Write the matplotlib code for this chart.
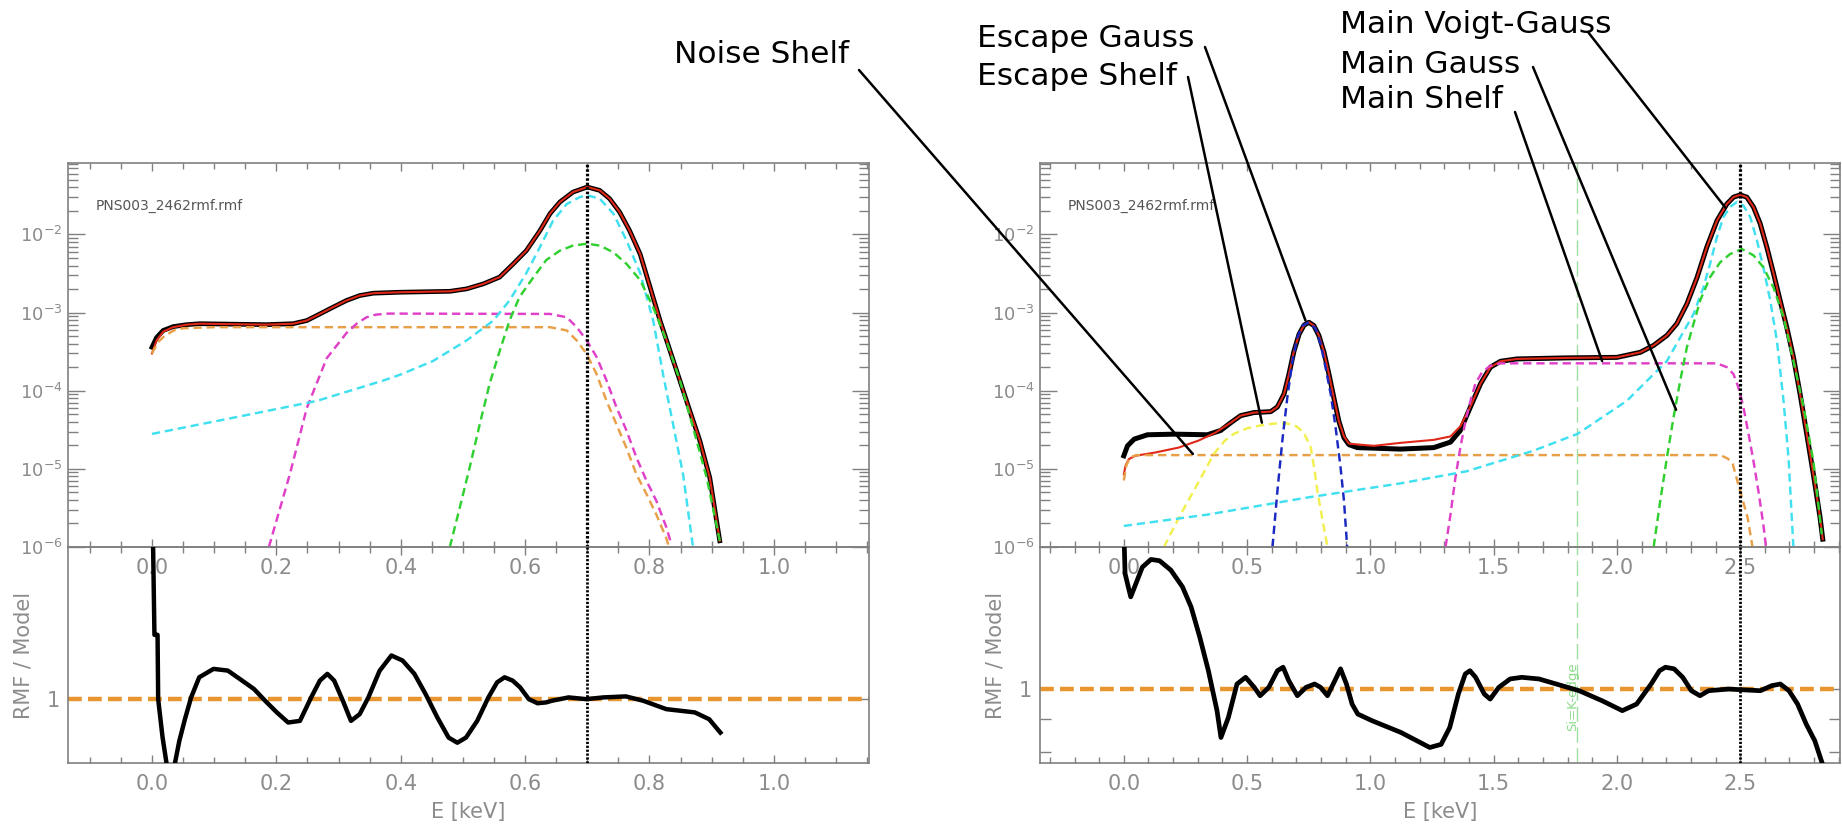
import numpy as np
import matplotlib.pyplot as plt
from matplotlib.ticker import MultipleLocator, FixedLocator, FixedFormatter, NullLocator, NullFormatter


# DATA

rmf_name = "PNS003_2462rmf.rmf"

# --- left: 0.7 keV line ---
left_line_e = 0.70
left_e = [0.0, 0.0075, 0.018, 0.034, 0.056, 0.077, 0.184, 0.227, 0.249, 0.270, 0.291,
          0.313, 0.334, 0.356, 0.399, 0.479, 0.506, 0.533, 0.559, 0.581, 0.602, 0.624,
          0.640, 0.656, 0.677, 0.700, 0.720, 0.736, 0.752, 0.768, 0.785, 0.801, 0.817,
          0.833, 0.849, 0.865, 0.881, 0.897, 0.913]
left_rmf = [3.6e-4, 4.8e-4, 5.9e-4, 6.6e-4, 7.0e-4, 7.2e-4, 7.0e-4, 7.2e-4, 7.9e-4,
            9.6e-4, 1.17e-3, 1.43e-3, 1.65e-3, 1.77e-3, 1.82e-3, 1.87e-3, 2.01e-3,
            2.33e-3, 2.84e-3, 4.2e-3, 6.2e-3, 0.0112, 0.0184, 0.026, 0.0348, 0.0404,
            0.0366, 0.0286, 0.0193, 0.0112, 5.6e-3, 2.11e-3, 7.9e-4, 3.26e-4, 1.34e-4,
            5.5e-5, 2.29e-5, 7.7e-6, 1.2e-6]
left_model = [3.0e-4, 4.4e-4, 5.7e-4, 6.5e-4, 7.0e-4, 7.2e-4, 7.0e-4, 7.2e-4, 7.9e-4,
              9.6e-4, 1.17e-3, 1.43e-3, 1.65e-3, 1.77e-3, 1.82e-3, 1.87e-3, 2.01e-3,
              2.33e-3, 2.84e-3, 4.2e-3, 6.2e-3, 0.0112, 0.0184, 0.026, 0.0348, 0.0404,
              0.0366, 0.0286, 0.0193, 0.0112, 5.6e-3, 2.11e-3, 7.9e-4, 3.26e-4, 1.34e-4,
              5.5e-5, 2.29e-5, 7.7e-6, 1.2e-6]

left_noise_e = [0.0, 0.01, 0.02, 0.035, 0.05, 0.10, 0.60, 0.640, 0.667, 0.683, 0.699,
                0.715, 0.731, 0.747, 0.763, 0.779, 0.795, 0.811, 0.827, 0.835]
left_noise = [3.0e-4, 4.2e-4, 5.0e-4, 5.9e-4, 6.3e-4, 6.5e-4, 6.5e-4, 6.5e-4, 5.9e-4,
              4.4e-4, 2.95e-4, 1.63e-4, 7.4e-5, 3.7e-5, 1.85e-5, 8.5e-6, 4.8e-6, 2.6e-6,
              1.3e-6, 8e-7]

left_shelf_e = [0.188, 0.222, 0.249, 0.281, 0.313, 0.33, 0.345, 0.36, 0.38, 0.640, 0.667,
                0.683, 0.699, 0.715, 0.731, 0.747, 0.763, 0.779, 0.795, 0.811, 0.827, 0.835]
left_shelf = [1.0e-6, 8.7e-6, 6.0e-5, 2.6e-4, 5.5e-4, 7.3e-4, 8.7e-4, 9.4e-4, 9.7e-4,
              9.6e-4, 8.7e-4, 6.5e-4, 4.4e-4, 2.7e-4, 1.35e-4, 6.1e-5, 3.1e-5, 1.4e-5,
              7.1e-6, 3.9e-6, 1.8e-6, 1.1e-6]

left_voigt_e = [0.0, 0.13, 0.265, 0.372, 0.399, 0.452, 0.506, 0.549, 0.575, 0.602, 0.624,
                0.645, 0.667, 0.688, 0.700, 0.720, 0.742, 0.763, 0.785, 0.806, 0.822,
                0.838, 0.854, 0.870]
left_voigt = [2.8e-5, 4.5e-5, 7.4e-5, 1.35e-4, 1.6e-4, 2.4e-4, 4.4e-4, 7.9e-4, 1.43e-3,
              3.2e-3, 6.9e-3, 0.015, 0.0245, 0.030, 0.0316, 0.0287, 0.0184, 8.4e-3,
              3.2e-3, 7.9e-4, 1.6e-4, 3.7e-5, 8.5e-6, 1.0e-6]

left_gauss_e = [0.479, 0.495, 0.511, 0.527, 0.543, 0.559, 0.575, 0.591, 0.613, 0.634,
                0.656, 0.677, 0.700, 0.720, 0.742, 0.763, 0.785, 0.806, 0.827, 0.849,
                0.870, 0.892, 0.913]
left_gauss = [1.0e-6, 3.2e-6, 1.05e-5, 3.7e-5, 1.23e-4, 3.2e-4, 7.9e-4, 1.58e-3, 2.8e-3,
              4.7e-3, 6.2e-3, 7.2e-3, 7.6e-3, 7.2e-3, 5.9e-3, 4.2e-3, 2.6e-3, 1.17e-3,
              4.4e-4, 1.35e-4, 3.4e-5, 7.7e-6, 1.2e-6]

left_ratio_e = [0.0, 0.004, 0.009, 0.010, 0.017, 0.024, 0.030, 0.037, 0.044, 0.053, 0.063,
                0.076, 0.099, 0.122, 0.145, 0.164, 0.182, 0.201, 0.219, 0.238, 0.256,
                0.270, 0.282, 0.293, 0.307, 0.320, 0.334, 0.348, 0.366, 0.385, 0.403,
                0.422, 0.440, 0.459, 0.477, 0.491, 0.505, 0.523, 0.541, 0.555, 0.567,
                0.580, 0.592, 0.606, 0.620, 0.634, 0.643, 0.670, 0.698, 0.726, 0.762,
                0.790, 0.827, 0.873, 0.896, 0.914]
left_ratio = [1.20, 1.053, 1.053, 1.0, 0.970, 0.948, 0.940, 0.950, 0.967, 0.984, 1.0014,
              1.0177, 1.0246, 1.0232, 1.015, 1.0082, 0.9987, 0.9893, 0.9814, 0.9827,
              1.0014, 1.015, 1.0205, 1.015, 0.9987, 0.9827, 0.988, 1.0014, 1.023, 1.0357,
              1.0315, 1.0205, 1.0041, 0.9853, 0.9696, 0.9656, 0.9696, 0.9827, 1.0014,
              1.0136, 1.0177, 1.015, 1.0095, 1.0, 0.9967, 0.9974, 0.9987, 1.0014, 1.0,
              1.0014, 1.0022, 0.9987, 0.992, 0.9894, 0.984, 0.9735]

# --- right: 2.5 keV line ---
right_line_e = 2.50
si_edge_e = 1.839
right_e = [0.0, 0.015, 0.042, 0.096, 0.204, 0.339, 0.393, 0.434, 0.474, 0.528, 0.596,
           0.623, 0.650, 0.670, 0.690, 0.711, 0.731, 0.751, 0.771, 0.791, 0.812, 0.832,
           0.852, 0.872, 0.893, 0.913, 0.947, 1.014, 1.122, 1.257, 1.325, 1.365, 1.406,
           1.447, 1.487, 1.528, 1.595, 1.798, 2.000, 2.095, 2.149, 2.203, 2.243, 2.284,
           2.325, 2.365, 2.406, 2.446, 2.473, 2.500, 2.527, 2.554, 2.581, 2.608, 2.635,
           2.662, 2.689, 2.716, 2.743, 2.770, 2.797, 2.824, 2.835]
right_rmf = [1.47e-5, 1.97e-5, 2.4e-5, 2.73e-5, 2.78e-5, 2.73e-5, 3.1e-5, 3.9e-5, 4.8e-5,
             5.25e-5, 5.4e-5, 6.2e-5, 9.1e-5, 1.63e-4, 3.2e-4, 5.3e-4, 6.9e-4, 7.5e-4,
             6.8e-4, 5.1e-4, 3.1e-4, 1.63e-4, 8.1e-5, 4.1e-5, 2.5e-5, 2.04e-5, 1.87e-5,
             1.84e-5, 1.79e-5, 1.87e-5, 2.2e-5, 3.1e-5, 6.2e-5, 1.23e-4, 2.0e-4, 2.38e-4,
             2.55e-4, 2.63e-4, 2.67e-4, 3.1e-4, 3.8e-4, 5.1e-4, 7.2e-4, 1.29e-3, 2.8e-3,
             6.9e-3, 0.015, 0.0245, 0.030, 0.032, 0.030, 0.0224, 0.0138, 6.9e-3, 3.2e-3,
             1.43e-3, 6.5e-4, 2.7e-4, 9.1e-5, 2.8e-5, 8.5e-6, 2.4e-6, 1.26e-6]
right_model_e = [0.0, 0.007, 0.020, 0.047, 0.128, 0.222, 0.303, 0.371, 0.434, 0.474,
                 0.528, 0.596, 0.623, 0.650, 0.670, 0.690, 0.711, 0.731, 0.751, 0.771,
                 0.791, 0.812, 0.832, 0.852, 0.872, 0.893, 0.913, 1.014, 1.122, 1.257,
                 1.325, 1.365, 1.406, 1.447, 1.487, 1.528, 1.595, 1.798, 2.000, 2.095,
                 2.149, 2.203, 2.243, 2.284, 2.325, 2.365, 2.406, 2.446, 2.473, 2.500,
                 2.527, 2.554, 2.581, 2.608, 2.635, 2.662, 2.689, 2.716, 2.743, 2.770,
                 2.797, 2.824, 2.835]
right_model = [8.5e-6, 1.1e-5, 1.33e-5, 1.47e-5, 1.62e-5, 1.87e-5, 2.3e-5, 2.9e-5, 3.9e-5,
               4.8e-5, 5.25e-5, 5.4e-5, 6.2e-5, 9.1e-5, 1.63e-4, 3.2e-4, 5.3e-4, 6.9e-4,
               7.5e-4, 6.8e-4, 5.1e-4, 3.1e-4, 1.63e-4, 8.1e-5, 4.1e-5, 2.6e-5, 2.1e-5,
               1.97e-5, 2.15e-5, 2.35e-5, 2.6e-5, 3.5e-5, 6.3e-5, 1.23e-4, 2.0e-4, 2.38e-4,
               2.55e-4, 2.63e-4, 2.67e-4, 3.1e-4, 3.8e-4, 5.1e-4, 7.2e-4, 1.29e-3, 2.8e-3,
               6.9e-3, 0.015, 0.0245, 0.030, 0.032, 0.030, 0.0224, 0.0138, 6.9e-3, 3.2e-3,
               1.43e-3, 6.5e-4, 2.7e-4, 9.1e-5, 2.8e-5, 8.5e-6, 2.4e-6, 1.26e-6]

right_noise_e = [0.0, 0.01, 0.025, 0.05, 2.42, 2.45, 2.47, 2.50, 2.53, 2.55]
right_noise = [7.1e-6, 1.1e-5, 1.4e-5, 1.5e-5, 1.5e-5, 1.35e-5, 1.15e-5, 5.2e-6, 2.4e-6, 1.0e-6]

right_esc_shelf_e = [0.163, 0.20, 0.23, 0.30, 0.365, 0.41, 0.446, 0.50, 0.555, 0.61, 0.664,
                     0.70, 0.730, 0.758, 0.775, 0.785, 0.805, 0.826]
right_esc_shelf = [1.0e-6, 1.7e-6, 2.6e-6, 6.5e-6, 1.55e-5, 2.3e-5, 2.8e-5, 3.3e-5, 3.6e-5,
                   3.8e-5, 3.8e-5, 3.5e-5, 2.9e-5, 1.9e-5, 9e-6, 5.2e-6, 2.3e-6, 1.0e-6]

right_esc_gauss_e = [0.603, 0.623, 0.643, 0.663, 0.684, 0.704, 0.724, 0.751, 0.778, 0.798,
                     0.818, 0.839, 0.859, 0.879, 0.893, 0.906]
right_esc_gauss = [1.0e-6, 5.2e-6, 2.3e-5, 8.1e-5, 2.4e-4, 4.8e-4, 6.8e-4, 7.5e-4, 6.2e-4,
                   4.0e-4, 2.0e-4, 9.1e-5, 3.4e-5, 1.05e-5, 3.9e-6, 1.0e-6]

right_shelf_e = [1.305, 1.325, 1.345, 1.365, 1.386, 1.406, 1.426, 1.453, 1.487, 1.528,
                 2.406, 2.446, 2.473, 2.493, 2.513, 2.534, 2.554, 2.574, 2.594, 2.605]
right_shelf = [1.0e-6, 2.6e-6, 7.7e-6, 1.87e-5, 4.1e-5, 7.4e-5, 1.23e-4, 1.72e-4, 2.09e-4,
               2.24e-4, 2.24e-4, 2.0e-4, 1.63e-4, 1.1e-4, 6.2e-5, 2.8e-5, 1.26e-5, 5.2e-6,
               1.95e-6, 1.0e-6]

right_voigt_e = [0.0, 0.34, 0.745, 1.12, 1.39, 1.66, 1.84, 2.04, 2.203, 2.311, 2.351,
                 2.378, 2.406, 2.432, 2.459, 2.487, 2.513, 2.541, 2.568, 2.594, 2.622,
                 2.649, 2.676, 2.696, 2.716]
right_voigt = [1.86e-6, 2.6e-6, 4.3e-6, 6.5e-6, 9.3e-6, 1.7e-5, 2.8e-5, 7.4e-5, 2.4e-4,
               9.6e-4, 2.1e-3, 4.2e-3, 9.3e-3, 0.0166, 0.0224, 0.026, 0.0234, 0.0166,
               8.4e-3, 3.8e-3, 1.43e-3, 4.4e-4, 7.4e-5, 1.4e-5, 1.0e-6]

right_gauss_e = [2.149, 2.176, 2.203, 2.230, 2.257, 2.284, 2.311, 2.338, 2.378, 2.419,
                 2.459, 2.507, 2.554, 2.594, 2.635, 2.676, 2.716, 2.757, 2.797, 2.831]
right_gauss = [1.0e-6, 3.9e-6, 1.4e-5, 4.6e-5, 1.35e-4, 3.6e-4, 7.2e-4, 1.43e-3, 2.84e-3,
               4.4e-3, 5.6e-3, 6.5e-3, 5.4e-3, 3.8e-3, 2.1e-3, 8.7e-4, 2.4e-4, 6.2e-5,
               1.26e-5, 1.45e-6]

right_ratio_e = [0.0, 0.005, 0.028, 0.075, 0.110, 0.145, 0.191, 0.238, 0.273, 0.308, 0.343,
                 0.378, 0.394, 0.424, 0.459, 0.494, 0.529, 0.553, 0.588, 0.623, 0.646,
                 0.669, 0.704, 0.739, 0.774, 0.798, 0.826, 0.856, 0.879, 0.903, 0.926,
                 0.949, 1.007, 1.124, 1.241, 1.287, 1.322, 1.357, 1.385, 1.404, 1.427,
                 1.462, 1.486, 1.521, 1.567, 1.614, 1.684, 1.777, 1.847, 1.940, 2.022,
                 2.080, 2.139, 2.173, 2.197, 2.232, 2.267, 2.302, 2.337, 2.372, 2.453,
                 2.500, 2.582, 2.628, 2.663, 2.698, 2.733, 2.768, 2.803, 2.838]
right_ratio = [1.75, 1.496, 1.379, 1.53, 1.572, 1.565, 1.514, 1.428, 1.331, 1.198, 1.065,
               0.926, 0.843, 0.904, 1.0165, 1.0406, 1.0047, 0.9757, 1.0047, 1.065, 1.078,
               1.0285, 0.9757, 1.0047, 1.0165, 1.0047, 0.9757, 1.0285, 1.072, 1.0165,
               0.9475, 0.915, 0.894, 0.858, 0.814, 0.823, 0.873, 0.9815, 1.053, 1.065,
               1.0406, 0.9815, 0.9643, 1.0047, 1.0347, 1.0406, 1.0347, 1.0106, 0.993,
               0.9587, 0.926, 0.9475, 1.0165, 1.065, 1.078, 1.072, 1.0406, 0.993, 0.9757,
               0.993, 0.9988, 0.9965, 0.993, 1.0106, 1.0165, 0.9930, 0.9475, 0.8833, 0.833,
               0.76]

# annotation labels and the point each one marks (right panel, data units)
ann_labels = ["Noise Shelf", "Escape Gauss", "Escape Shelf",
              "Main Voigt-Gauss", "Main Gauss", "Main Shelf"]
ann_e = [0.28, 0.737, 0.56, 2.44, 2.24, 1.94]
ann_val = [1.55e-5, 7.9e-4, 3.9e-5, 0.022, 5.7e-5, 2.4e-4]


# STYLE

W, H = 1842, 826
GRAY = '#808080'
LABEL = '#8c8c8c'
ORANGE = '#E8A048'
MAGENTA = '#E040C8'
CYAN = '#40E0F0'
GREEN = '#30D030'
YELLOW = '#F2F050'
BLUE = '#1828C0'
RED = '#E02818'
DASH = (0, (3.4, 2.0))
DOT = (0, (0.8, 0.6))
COMP_LW = 1.75

fig = plt.figure(figsize=(W / 100, H / 100), dpi=100)


def box(x0, y0, x1, y1):
    # pixel box with top-left origin -> figure fraction
    return [x0 / W, 1 - y1 / H, (x1 - x0) / W, (y1 - y0) / H]


ax_lt = fig.add_axes(box(68, 163, 869, 547))
ax_lb = fig.add_axes(box(68, 547, 869, 763))
ax_rt = fig.add_axes(box(1040, 163, 1840, 547))
ax_rb = fig.add_axes(box(1040, 547, 1840, 763))


def style(ax, xmaj, xmin):
    for s in ax.spines.values():
        s.set_color(GRAY)
        s.set_linewidth(1.2)
    ax.xaxis.set_major_locator(MultipleLocator(xmaj))
    ax.xaxis.set_minor_locator(MultipleLocator(xmin))
    ax.xaxis.set_major_formatter(plt.FormatStrFormatter('%.1f'))
    ax.tick_params(which='both', direction='in', top=True, right=True,
                   colors=GRAY, labelcolor=LABEL)
    ax.tick_params(axis='x', which='major', length=6, width=1, labelsize=15, pad=8)
    ax.tick_params(axis='x', which='minor', length=4, width=1)


def style_top(ax, xlim, xmaj, xmin):
    style(ax, xmaj, xmin)
    ax.set_yscale('log')
    ax.set_ylim(1e-6, 0.082)
    ax.set_xlim(*xlim)
    ax.tick_params(axis='y', which='major', length=12, width=1, labelsize=13, pad=4)
    ax.tick_params(axis='y', which='minor', length=7, width=1)
    ax.text(0.035, 0.888, rmf_name, transform=ax.transAxes, fontsize=10,
            color='#555555', va='center')


def style_bottom(ax, xlim, ylim, minors, xmaj, xmin):
    style(ax, xmaj, xmin)
    ax.patch.set_visible(False)
    ax.set_yscale('log')
    ax.set_xlim(*xlim)
    ax.set_ylim(*ylim)
    ax.yaxis.set_major_locator(FixedLocator([1.0]))
    ax.yaxis.set_major_formatter(FixedFormatter(['1']))
    if minors:
        ax.yaxis.set_minor_locator(FixedLocator(minors))
    else:
        ax.yaxis.set_minor_locator(NullLocator())
    ax.yaxis.set_minor_formatter(NullFormatter())
    ax.tick_params(axis='y', which='both', length=8, width=1, labelsize=15, pad=6)
    ax.axhline(1.0, color='#E8952F', lw=3.2, ls=(0, (3.1, 1.4)), zorder=2)
    ax.set_xlabel('E [keV]', fontsize=15, color=LABEL)
    ax.xaxis.label.set_va('center')
    ax.xaxis.set_label_coords(0.5, -0.227)
    ax.set_ylabel('RMF / Model', fontsize=15, color=LABEL)
    ax.yaxis.label.set_va('center')
    ax.yaxis.set_label_coords(-0.056, 0.5)


style_top(ax_lt, (-0.135, 1.153), 0.2, 0.05)
style_bottom(ax_lb, (-0.135, 1.153), (0.95, 1.13), None, 0.2, 0.05)
style_top(ax_rt, (-0.34, 2.905), 0.5, 0.1)
style_bottom(ax_rb, (-0.34, 2.905), (0.771, 1.642), [0.8, 0.9], 0.5, 0.1)


# LEFT PANELS

ax_lt.plot(left_e, left_rmf, color='black', lw=3.4, zorder=3)
ax_lt.plot(left_e, left_model, color=RED, lw=1.5, zorder=4)
ax_lt.plot(left_noise_e, left_noise, color=ORANGE, lw=COMP_LW, ls=DASH, zorder=5)
ax_lt.plot(left_shelf_e, left_shelf, color=MAGENTA, lw=COMP_LW, ls=DASH, zorder=5)
ax_lt.plot(left_voigt_e, left_voigt, color=CYAN, lw=COMP_LW, ls=DASH, zorder=5)
ax_lt.plot(left_gauss_e, left_gauss, color=GREEN, lw=COMP_LW, ls=DASH, zorder=5)
ax_lt.axvline(left_line_e, color='black', lw=2.3, ls=DOT, zorder=6)

ax_lb.plot(left_ratio_e, left_ratio, color='black', lw=3.2, zorder=3)
ax_lb.axvline(left_line_e, color='black', lw=2.0, ls=DOT, zorder=6)


# RIGHT PANELS

ax_rt.axvline(si_edge_e, color='#9EE09E', lw=1.0, ls=(0, (11, 4)), zorder=1)
ax_rt.plot(right_e, right_rmf, color='black', lw=3.6, zorder=3)
ax_rt.plot(right_model_e, right_model, color=RED, lw=1.5, zorder=4)
ax_rt.plot(right_noise_e, right_noise, color=ORANGE, lw=COMP_LW, ls=DASH, zorder=5)
ax_rt.plot(right_esc_shelf_e, right_esc_shelf, color=YELLOW, lw=COMP_LW, ls=DASH, zorder=5)
ax_rt.plot(right_esc_gauss_e, right_esc_gauss, color=BLUE, lw=COMP_LW, ls=DASH, zorder=5)
ax_rt.plot(right_shelf_e, right_shelf, color=MAGENTA, lw=COMP_LW, ls=DASH, zorder=5)
ax_rt.plot(right_voigt_e, right_voigt, color=CYAN, lw=COMP_LW, ls=DASH, zorder=5)
ax_rt.plot(right_gauss_e, right_gauss, color=GREEN, lw=COMP_LW, ls=DASH, zorder=5)
ax_rt.axvline(right_line_e, color='black', lw=2.3, ls=DOT, zorder=6)

ax_rb.axvline(si_edge_e, color='#9EE09E', lw=1.0, ls=(0, (11, 4)), zorder=1)
ax_rb.text(1.82, 0.972, 'Si=K-edge', rotation=90, fontsize=9.5, color='#8CDC8C',
           ha='center', va='center')
ax_rb.plot(right_ratio_e, right_ratio, color='black', lw=3.4, zorder=3)
ax_rb.axvline(right_line_e, color='black', lw=2.0, ls=DOT, zorder=6)


# ANNOTATIONS (text position and line start in figure pixels, top-left origin)

text_pos = [(674, 63), (977, 47), (977, 85), (1340, 33), (1340, 73), (1340, 108)]
line_start = [(859, 70), (1205, 47), (1188, 77), (1588, 32), (1533, 67), (1515, 112)]

for lab, (tx, ty), (lx, ly), e, v in zip(ann_labels, text_pos, line_start, ann_e, ann_val):
    fig.text(tx / W, 1 - ty / H, lab, fontsize=22.5, color='black',
             ha='left', va='baseline')
    ax_rt.annotate('', xy=(e, v), xycoords='data',
                   xytext=(lx, H - ly), textcoords='figure pixels',
                   arrowprops=dict(arrowstyle='-', color='black', lw=1.8,
                                   shrinkA=0, shrinkB=0),
                   annotation_clip=False, zorder=10)

fig.savefig('out.png', dpi=100)
